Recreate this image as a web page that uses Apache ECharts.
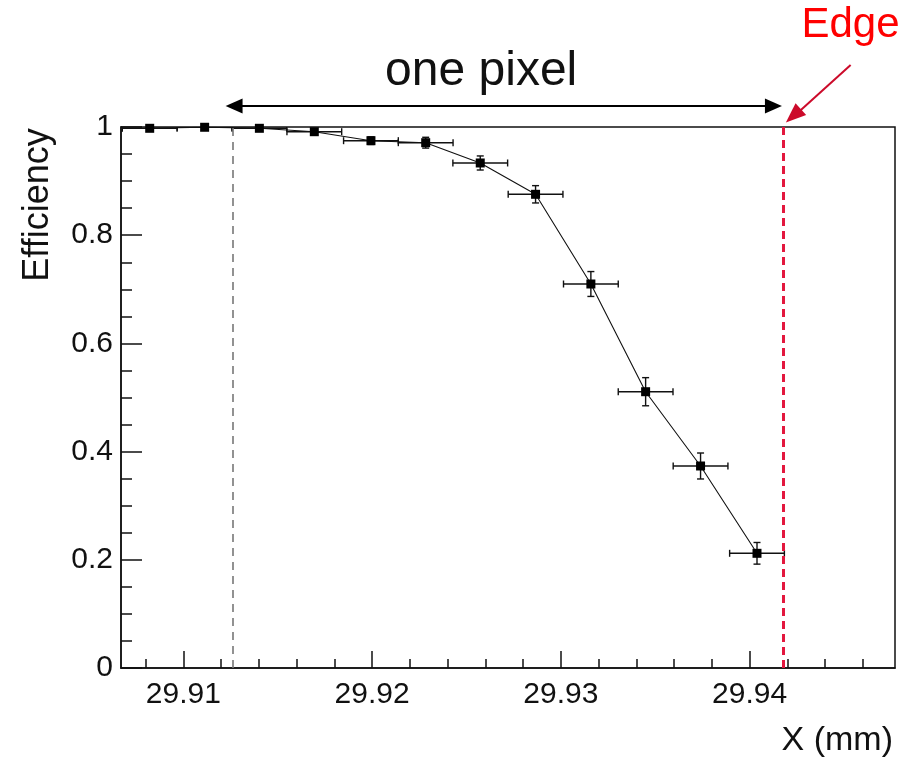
<!DOCTYPE html>
<html>
<head>
<meta charset="utf-8">
<script src="https://cdn.jsdelivr.net/npm/echarts@6/dist/echarts.min.js"></script>
<style>
html,body{margin:0;padding:0;background:#fff;}
#chart{width:906px;height:763px;}
</style>
</head>
<body>
<div id="chart"></div>
<script>
// ---- data ----
const xPos = [29.90822, 29.91113, 29.91403, 29.91694, 29.91994, 29.92284, 29.92573, 29.92866, 29.93159, 29.93449, 29.9374, 29.94039];
const efficiency = [0.9976, 0.9995, 0.9976, 0.9913, 0.9747, 0.971, 0.9335, 0.8756, 0.7098, 0.5107, 0.3734, 0.212];
const xErr = [0.00145, 0.00145, 0.00145, 0.00145, 0.00145, 0.00145, 0.00145, 0.00145, 0.00145, 0.00145, 0.00145, 0.00145];
const effErr = [0.003, 0.002, 0.003, 0.004, 0.007, 0.010, 0.013, 0.016, 0.023, 0.026, 0.024, 0.020];
const xMajorTicks = [29.91, 29.92, 29.93, 29.94];
const xMinorTicks = [29.908, 29.912, 29.914, 29.916, 29.918, 29.922, 29.924, 29.926, 29.928, 29.932, 29.934, 29.936, 29.938, 29.942, 29.944, 29.946];
const pixelStartX = 29.91261;
const edgeX = 29.94176;
const arrowY = 1.039;
const arrowStartX = 29.91224;
const arrowEndX = 29.94171;
const xMin = 29.9067, xMax = 29.9477;

const FONT = "'Liberation Sans', Arial, Helvetica, sans-serif";
const chart = echarts.init(document.getElementById('chart'), null, {renderer: 'canvas'});

const pts = xPos.map((x, i) => [x, efficiency[i]]);
const errData = xPos.map((x, i) => [x, efficiency[i], xErr[i], effErr[i]]);

chart.setOption({
  animation: false,
  backgroundColor: '#fff',
  grid: {left: 121, right: 11, top: 127, bottom: 95, show: true, borderColor: '#111', borderWidth: 1.5, backgroundColor: 'transparent'},
  xAxis: [{
    type: 'value', min: xMin, max: xMax,
    axisLine: {show: true, onZero: false, lineStyle: {color: '#111', width: 1.5}},
    axisTick: {show: true, inside: true, length: 17, lineStyle: {color: '#111', width: 1.5}, customValues: xMajorTicks},
    axisLabel: {show: true, margin: 12, fontSize: 30, fontFamily: FONT, color: '#111', customValues: xMajorTicks,
      formatter: v => v.toFixed(2)},
    splitLine: {show: false}
  }, {
    type: 'value', min: xMin, max: xMax, position: 'bottom',
    axisLine: {show: false},
    axisTick: {show: true, inside: true, length: 9, lineStyle: {color: '#111', width: 1.5}, customValues: xMinorTicks},
    axisLabel: {show: false},
    splitLine: {show: false}
  }],
  yAxis: {
    type: 'value', min: 0, max: 1, interval: 0.2,
    axisLine: {show: true, onZero: false, lineStyle: {color: '#111', width: 1.5}},
    axisTick: {show: true, inside: true, length: 21, lineStyle: {color: '#111', width: 1.5}},
    minorTick: {show: true, splitNumber: 4, length: 11, lineStyle: {color: '#111', width: 1.5}},
    axisLabel: {show: true, margin: 8, fontSize: 30, fontFamily: FONT, color: '#111'},
    splitLine: {show: false}
  },
  series: [{
    type: 'custom',
    clip: true,
    z: 3,
    data: errData,
    renderItem: function (params, api) {
      const x = api.value(0), y = api.value(1), ex = api.value(2), ey = api.value(3);
      const pL = api.coord([x - ex, y]), pR = api.coord([x + ex, y]);
      const pT = api.coord([x, y + ey]), pB = api.coord([x, y - ey]);
      const c = 3.5;
      const st = {stroke: '#111', lineWidth: 1.4, fill: null};
      const ln = (x1, y1, x2, y2) => ({type: 'line', shape: {x1, y1, x2, y2}, style: st});
      return {type: 'group', children: [
        ln(pL[0], pL[1], pR[0], pR[1]),
        ln(pL[0], pL[1] - c, pL[0], pL[1] + c),
        ln(pR[0], pR[1] - c, pR[0], pR[1] + c),
        ln(pT[0], pT[1], pB[0], pB[1]),
        ln(pT[0] - c, pT[1], pT[0] + c, pT[1]),
        ln(pB[0] - c, pB[1], pB[0] + c, pB[1])
      ]};
    }
  }, {
    type: 'line',
    data: pts,
    z: 4,
    symbol: 'rect',
    symbolSize: 9,
    itemStyle: {color: '#000'},
    lineStyle: {color: '#111', width: 1.1},
    markLine: {
      silent: true,
      precision: 6,
      symbol: ['none', 'none'],
      label: {show: false},
      data: [
        {xAxis: pixelStartX, lineStyle: {color: '#777', width: 1.6, type: [8, 6]}},
        {xAxis: edgeX, lineStyle: {color: '#e3173e', width: 3, type: [8, 5]}}
      ]
    }
  }]
});

// annotations placed via the axes' scales
const toPx = (x, y) => chart.convertToPixel({xAxisIndex: 0, yAxisIndex: 0}, [x, y]);
const a1 = toPx(arrowStartX, arrowY), a2 = toPx(arrowEndX, arrowY);
const edgeTip = toPx(29.94192, 1.0085), edgeTail = toPx(29.94535, 1.1146);
const txtOne = toPx(29.92578, 1.1017), txtEdge = toPx(29.94534, 1.1885);
const yTitle = [38, 205];
const xTitle = [893, 741];

function head(tip, from, len, hw) {
  const dx = tip[0] - from[0], dy = tip[1] - from[1];
  const L = Math.hypot(dx, dy), ux = dx / L, uy = dy / L;
  const bx = tip[0] - ux * len, by = tip[1] - uy * len;
  return [[tip[0], tip[1]], [bx - uy * hw, by + ux * hw], [bx + uy * hw, by - ux * hw]];
}

chart.setOption({
  graphic: [
    {type: 'line', shape: {x1: a1[0] + 10, y1: a1[1], x2: a2[0] - 10, y2: a2[1]}, style: {stroke: '#000', lineWidth: 2}},
    {type: 'polygon', shape: {points: head(a1, a2, 17, 7.5)}, style: {fill: '#000'}},
    {type: 'polygon', shape: {points: head(a2, a1, 17, 7.5)}, style: {fill: '#000'}},
    {type: 'line', shape: {x1: edgeTail[0], y1: edgeTail[1], x2: edgeTip[0] + 10, y2: edgeTip[1] - 8}, style: {stroke: '#cc0a2a', lineWidth: 2}},
    {type: 'polygon', shape: {points: head(edgeTip, edgeTail, 20, 8)}, style: {fill: '#cc0a2a'}},
    {type: 'text', x: txtOne[0], y: txtOne[1], style: {text: 'one pixel', fontSize: 48, fontFamily: FONT, fill: '#111', align: 'center', verticalAlign: 'middle'}},
    {type: 'text', x: txtEdge[0], y: txtEdge[1], style: {text: 'Edge', fontSize: 42, fontFamily: FONT, fill: '#ff0000', align: 'center', verticalAlign: 'middle'}},
    {type: 'text', x: yTitle[0], y: yTitle[1], rotation: Math.PI / 2, style: {text: 'Efficiency', fontSize: 36, fontFamily: FONT, fill: '#111', align: 'center', verticalAlign: 'middle'}},
    {type: 'text', x: xTitle[0], y: xTitle[1], style: {text: 'X (mm)', fontSize: 34, fontFamily: FONT, fill: '#111', align: 'right', verticalAlign: 'middle'}}
  ]
});
</script>
</body>
</html>
